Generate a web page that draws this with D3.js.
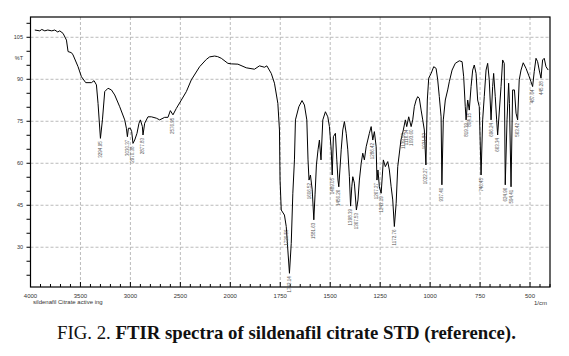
<!DOCTYPE html>
<html><head><meta charset="utf-8">
<script src="https://cdn.jsdelivr.net/npm/d3@7"></script>
<style>body{margin:0;background:#fff}svg{display:block}</style>
</head><body><svg id="c" width="569" height="356"></svg>
<script>
const wavenumber=[3957,3907,3887,3857,3827,3787,3757,3727,3707,3674,
3640,3624,3590,3574,3524,3490,3447,3390,3364,3340,
3324,3300,3280,3257,3224,3190,3157,3107,3057,3040,
3030,3020,3000,2987,2974,2957,2934,2914,2900,2880,
2874,2857,2824,2790,2740,2707,2657,2624,2600,2574,
2540,2490,2440,2390,2307,2240,2207,2157,2127,2090,
2024,1994,1962,1920,1879,1854,1829,1817,1795,1779,
1762,1754,1751,1745,1729,1720,1712,1704,1695,1687,
1679,1674,1657,1641,1629,1617,1611,1606,1599,1590,
1582,1576,1569,1561,1554,1546,1537,1524,1512,1504,
1495,1490,1484,1474,1467,1461,1457,1445,1437,1429,
1420,1412,1404,1398,1392,1387,1379,1369,1361,1354,
1345,1337,1329,1320,1312,1304,1295,1287,1279,1270,
1266,1261,1254,1245,1234,1224,1212,1204,1195,1187,
1179,1170,1162,1146,1134,1124,1117,1107,1095,1087,
1079,1070,1062,1054,1045,1037,1029,1021,1014,1007,
995,982,970,962,954,945,941,934,924,912,
904,890,874,854,840,832,824,820,812,804,
795,787,779,770,762,754,745,737,729,720,
712,704,695,687,682,674,667,662,645,637,
629,624,615,607,603,595,587,578,570,562,
554,545,534,520,507,495,487,479,470,462,
454,445,437,429,420,409];
const transmittance=[107.6,107.3,107.8,107.3,107.6,107.3,107.6,106.9,107.3,106.4,
104.0,99.9,99.5,98.7,94.5,90.9,88.8,88.8,89.5,88.0,
81.4,68.9,75.5,85.6,86.8,86.2,84.4,80.2,75.5,72.5,
69.5,72.5,72.5,71.3,67.1,68.3,70.7,74.3,75.5,73.1,
70.1,74.3,76.6,76.6,76.1,75.5,76.4,76.4,78.8,77.3,
79.6,82.6,85.6,89.8,94.5,97.1,98.0,98.3,98.1,97.5,
95.7,95.5,95.4,94.1,93.6,94.8,94.3,94.8,92.1,88.6,
81.4,71.9,54.0,43.3,41.5,37.4,29.0,20.7,31.4,49.3,
61.2,75.5,80.2,82.4,80.8,75.5,61.2,54.0,55.8,50.5,
39.8,48.7,59.4,64.8,68.3,61.2,75.5,78.4,76.6,73.1,
64.8,55.8,69.5,70.7,61.2,54.0,51.6,64.8,71.9,74.9,
70.7,64.8,55.2,44.7,51.6,55.2,52.9,43.3,46.9,54.0,
60.0,63.6,61.2,65.9,68.3,70.7,73.1,68.3,71.3,65.9,
54.0,57.6,51.6,49.3,61.2,58.8,60.6,57.6,51.6,46.9,
37.4,45.7,58.8,68.3,71.9,75.5,73.1,76.6,73.1,75.5,
80.2,82.6,83.8,83.2,79.0,75.5,71.9,59.4,82.6,90.4,
92.1,94.5,93.9,89.8,83.8,76.6,52.3,75.5,82.6,86.2,
89.1,93.3,95.7,96.6,96.3,90.9,80.2,75.5,82.6,79.0,
87.4,93.3,95.1,92.1,82.6,80.2,55.8,75.5,83.8,93.3,
95.7,89.8,75.5,87.4,92.1,83.8,75.5,70.1,87.4,96.9,
95.7,52.3,75.5,88.6,81.4,51.6,86.2,86.2,77.9,75.5,
89.8,93.3,95.9,93.9,91.5,89.1,87.4,92.7,97.5,96.3,
93.3,90.4,96.9,97.5,94.5,93.3];

const xTickValues=[4000,3500,3000,2500,2000,1750,1500,1250,1000,750,500];
const xTickLabels=["4000","3500","3000","2500","2000","1750","1500","1250","1000","750","500"];
const yTickValues=[105,97.5,90,75,60,45,30];
const yTickLabels=["105","%T","90","75","60","45","30"];
const yGridValues=[105,90,75,60,45,30];

const peakWn=[3300,3030,2974,2874,2574,1720,1704,1606,1582,1490,1457,1398,1369,1266,1245,1179,1287,1134,1117,1095,1029,1021,941,820,804,745,695,662,624,595,562,487,445];
const peakText=["3294.95","3030.37","2970.38","2877.83","2576.95","1720.56","1703.14","1606.52","1581.63","1489.05","1456.26","1398.39","1367.53","1267.27","1243.19","1172.76","1286.42","1139.58","1116.34","1093.60","1031.83","1022.27","937.40","819.39","804.15","746.45","696.24","663.34","624.96","594.41","563.42","487.64","445.28"];

const xAxisTitle="sildenafil Citrate active ing";
const xUnit="1/cm";
const captionPlain="FIG. 2. ";
const captionBold="FTIR spectra of sildenafil citrate STD (reference).";

const svg=d3.select("#c");
const L=30.5,R=550,T=17,B=287;
const x=d3.scaleLinear().domain([4000,2000,400]).range([L,230.3,R]);
const y=d3.scaleLinear().domain([15.8,112.25]).range([B,T]);

// grid
const g=svg.append("g");
g.selectAll("line.vg").data(xTickValues.filter(v=>v!==4000)).join("line")
  .attr("x1",d=>x(d)).attr("x2",d=>x(d)).attr("y1",T).attr("y2",B)
  .attr("stroke","#aaa").attr("stroke-width",0.8).attr("stroke-dasharray","3,2");
g.selectAll("line.hg").data(yGridValues).join("line")
  .attr("x1",L).attr("x2",R).attr("y1",d=>y(d)).attr("y2",d=>y(d))
  .attr("stroke","#aaa").attr("stroke-width",0.8).attr("stroke-dasharray","3,2");

// minor ticks
const xMinor=d3.range(4000,2000,-100).concat(d3.range(2000,399,-50));
svg.append("g").selectAll("line").data(xMinor).join("line")
  .attr("x1",d=>x(d)).attr("x2",d=>x(d)).attr("y1",B).attr("y2",d=>xTickValues.includes(d)?B-5:B-3)
  .attr("stroke","#000").attr("stroke-width",1);
const yMinor=d3.range(20,112,5);
svg.append("g").selectAll("line").data(yMinor).join("line")
  .attr("x1",L).attr("x2",L-4).attr("y1",d=>y(d)).attr("y2",d=>y(d))
  .attr("stroke","#000").attr("stroke-width",1);

// frame
svg.append("rect").attr("x",L).attr("y",T).attr("width",R-L).attr("height",B-T)
  .attr("fill","none").attr("stroke","#000").attr("stroke-width",1.2);

// axis labels
svg.append("g").selectAll("text").data(xTickValues).join("text")
  .attr("x",d=>x(d)).attr("y",298).attr("text-anchor","middle")
  .attr("font-family","Liberation Sans, Arial, sans-serif").attr("font-size",6).attr("fill","#333")
  .text((d,i)=>xTickLabels[i]);
svg.append("g").selectAll("text").data(yTickValues).join("text")
  .attr("x",23).attr("y",d=>y(d)).attr("dy","0.35em").attr("text-anchor","end")
  .attr("font-family","Liberation Sans, Arial, sans-serif").attr("font-size",5.5).attr("fill","#333")
  .text((d,i)=>yTickLabels[i]);
svg.append("text").attr("x",33).attr("y",303.5)
  .attr("font-family","Liberation Sans, Arial, sans-serif").attr("font-size",6).attr("fill","#333").text(xAxisTitle);
svg.append("text").attr("x",547).attr("y",304.5).attr("text-anchor","end")
  .attr("font-family","Liberation Sans, Arial, sans-serif").attr("font-size",6).attr("fill","#333").text(xUnit);

// spectrum
const pts=d3.zip(wavenumber,transmittance);
svg.append("path").datum(pts)
  .attr("d",d3.line().x(d=>x(d[0])).y(d=>y(d[1])))
  .attr("fill","none").attr("stroke","#000").attr("stroke-width",1);

// peak labels
const nearestT=w=>{let bi=0;wavenumber.forEach((v,i)=>{if(Math.abs(v-w)<Math.abs(wavenumber[bi]-w))bi=i;});return transmittance[bi];};
svg.append("g").selectAll("text").data(peakWn).join("text")
  .attr("transform",d=>`translate(${x(d)+1.5},${y(nearestT(d))+3}) rotate(-90)`)
  .attr("text-anchor","end")
  .attr("font-family","Liberation Sans, Arial, sans-serif").attr("font-size",4.5).attr("fill","#555")
  .text((d,i)=>peakText[i]);

// caption
const cap=svg.append("text").attr("x",57).attr("y",339)
  .attr("font-family","Liberation Serif, Times New Roman, serif").attr("font-size",18.8).attr("fill","#111");
cap.append("tspan").text(captionPlain);
cap.append("tspan").attr("font-weight","bold").text(captionBold);
</script>
</body></html>
